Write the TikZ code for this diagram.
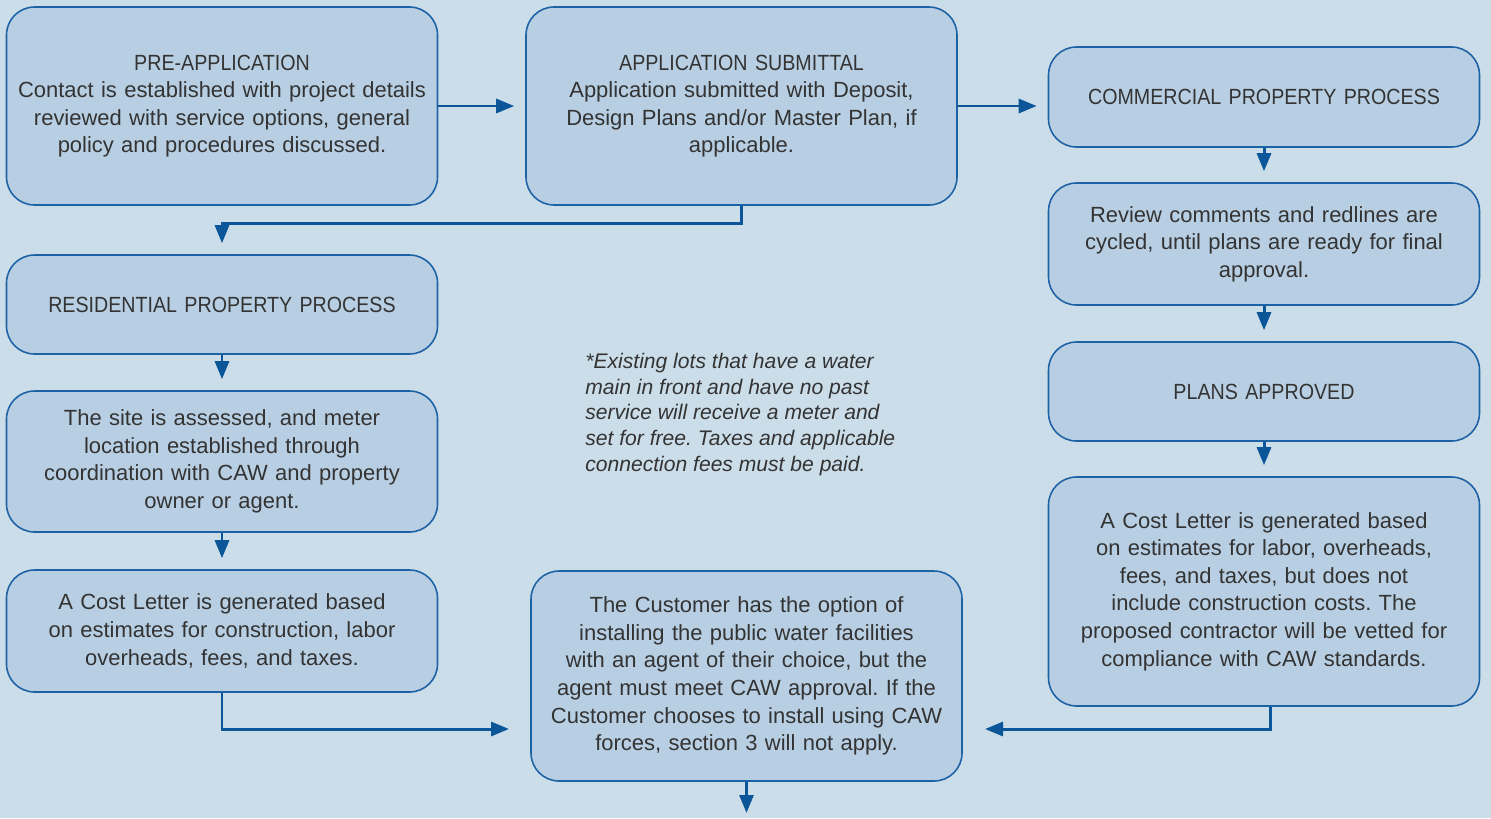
\documentclass[tikz,border=0pt]{standalone}
\usepackage{fontspec}
\setmainfont{Liberation Sans}
\newfontfamily\capsfont[FakeStretch=0.895]{Liberation Sans}
\usepackage{xcolor}
\usetikzlibrary{arrows.meta}
\definecolor{pagebg}{HTML}{CCDDEA}
\definecolor{boxfill}{HTML}{B8CFE3}
\definecolor{boxline}{HTML}{1E62A6}
\definecolor{flowline}{HTML}{0B5699}
\definecolor{txt}{HTML}{333333}
\newcommand{\captn}[1]{{\capsfont #1}}
\frenchspacing

\begin{document}
\begin{tikzpicture}[
    stage/.style={draw=boxline, line width=0.9pt, fill=boxfill, rounded corners=0.56cm,
      text=txt, align=center, text width=8.5cm, inner xsep=0.06cm, inner ysep=0pt,
      font=\fontsize{12.5}{15.7}\selectfont},
    flow/.style={draw=flowline, line width=1.7pt,
      -{Triangle[length=0.36cm, width=0.28cm]}, shorten >=0.22cm},
    remark/.style={text=txt, align=left, inner sep=0pt,
      font=\fontsize{12}{14.7}\selectfont\itshape}]
      \useasboundingbox [fill=pagebg] (0,0) rectangle (29.82,-16.36);

      % left column
      \node [stage, minimum height=3.96cm] (pre) at (4.44,-2.12)
        {\captn{PRE-APPLICATION}\\Contact is established with project details\\reviewed with service options, general\\policy and procedures discussed.};
      \node [stage, minimum height=1.98cm] (res) at (4.44,-6.09)
        {\captn{RESIDENTIAL PROPERTY PROCESS}};
      \node [stage, minimum height=2.82cm] (sit) at (4.44,-9.23)
        {The site is assessed, and meter\\location established through\\coordination with CAW and property\\owner or agent.};
      \node [stage, minimum height=2.44cm] (cpl) at (4.44,-12.62)
        {A Cost Letter is generated based\\on estimates for construction, labor\\overheads, fees, and taxes.};

      % middle column
      \node [stage, minimum height=3.96cm] (sub) at (14.83,-2.12)
        {\captn{APPLICATION SUBMITTAL}\\Application submitted with Deposit,\\Design Plans and/or Master Plan, if\\applicable.};
      \node [stage, minimum height=4.2cm] (cus) at (14.93,-13.52)
        {The Customer has the option of\\installing the public water facilities\\with an agent of their choice, but the\\agent must meet CAW approval. If the\\Customer chooses to install using CAW\\forces, section 3 will not apply.};
      \node [remark, anchor=west] (note) at (11.7,-8.29)
        {*Existing lots that have a water\\main in front and have no past\\service will receive a meter and\\set for free. Taxes and applicable\\connection fees must be paid.};

      % right column
      \node [stage, minimum height=2.0cm] (com) at (25.28,-1.94)
        {\captn{COMMERCIAL PROPERTY PROCESS}};
      \node [stage, minimum height=2.44cm] (rev) at (25.28,-4.88)
        {Review comments and redlines are\\cycled, until plans are ready for final\\approval.};
      \node [stage, minimum height=1.98cm] (app) at (25.28,-7.83)
        {\captn{PLANS APPROVED}};
      \node [stage, minimum height=4.58cm] (cpr) at (25.28,-11.83)
        {A Cost Letter is generated based\\on estimates for labor, overheads,\\fees, and taxes, but does not\\include construction costs. The\\proposed contractor will be vetted for\\compliance with CAW standards.};

      % free ends
      \coordinate (inl) at (10.4,-14.58);
      \coordinate (inr) at (19.48,-14.58);
      \coordinate (out) at (14.93,-16.26);

      \draw [flow] (pre.east) -- (sub.west);
      \draw [flow] (sub.east) -- (sub.east -| com.west);
      \draw [flow] (sub.south) -- ++(0,-0.36) -| (res.north);
      \draw [flow] (res) -- (sit);
      \draw [flow] (sit) -- (cpl);
      \draw [flow] (cpl.south) |- (inl);
      \draw [flow] (com) -- (rev);
      \draw [flow] (rev) -- (app);
      \draw [flow] (app) -- (cpr);
      \draw [flow] ([xshift=0.12cm]cpr.south) |- (inr);
      \draw [flow, shorten >=0pt] (cus.south) -- (out);
    \end{tikzpicture}
\end{document}
